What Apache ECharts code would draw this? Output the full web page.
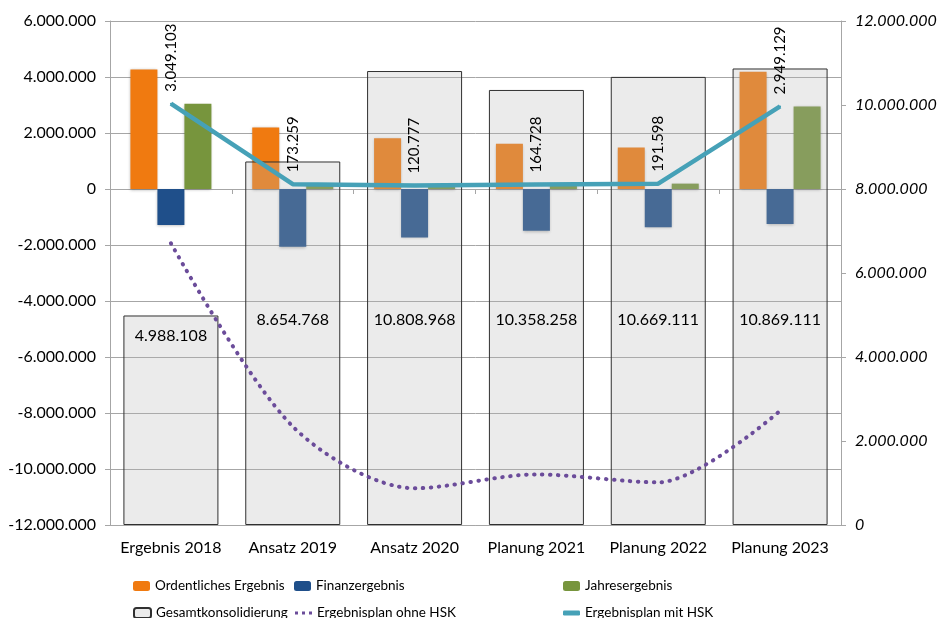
<!DOCTYPE html>
<html>
<head>
<meta charset="utf-8">
<script src="https://cdn.jsdelivr.net/npm/echarts@6/dist/echarts.min.js"></script>
<style>
  html, body { margin: 0; padding: 0; background: #fff; }
  #chart { width: 939px; height: 618px; }
</style>
</head>
<body>
<div id="chart"></div>
<script>
// Kategorien und Werte
const categories = ['Ergebnis 2018', 'Ansatz 2019', 'Ansatz 2020', 'Planung 2021', 'Planung 2022', 'Planung 2023'];
const ordentlich = [4270000, 2200000, 1810000, 1620000, 1480000, 4190000];
const finanz = [-1290000, -2060000, -1730000, -1490000, -1370000, -1250000];
const jahres = [3049103, 173259, 120777, 164728, 191598, 2949129];
const gesamt = [4988108, 8654768, 10808968, 10358258, 10669111, 10869111];
const ohneHSK = [-1939005, -8481509, -10688191, -10193530, -10477513, -7919982];
const mitHSK = [3049103, 173259, 120777, 164728, 191598, 2949129];

const FONT = 'Lato';

function de(v) {
  const s = Math.abs(Math.round(v)).toString().replace(/\B(?=(\d{3})+(?!\d))/g, '.');
  return (v < 0 ? '-' : '') + s;
}

const chart = echarts.init(document.getElementById('chart'));

// Beschriftung Gesamtkonsolidierung: ersten Balken oben innen, sonst fester Abstand vom Boden
const gesamtData = gesamt.map((v, i) => ({
  value: v,
  label: i === 0
    ? { position: 'insideTop', distance: 12 }
    : { position: 'insideBottom', distance: 197 }
}));

const legendText = { fontFamily: FONT, fontSize: 13.5, color: '#000' };
const dots = 'path://M0,0h3v3h-3zM7,0h3v3h-3zM14,0h3v3h-3z';

// eine Legende je Eintrag, damit die Spalten wie im Original stehen
function leg(name, left, top, extra) {
  return Object.assign({
    left: left, top: top, orient: 'horizontal',
    itemWidth: 17, itemHeight: 10,
    textStyle: legendText,
    data: [name]
  }, extra || {});
}

chart.setOption({
  animation: false,
  textStyle: { fontFamily: FONT },
  grid: { left: 110, right: 98, top: 21, bottom: 93, containLabel: false, outerBoundsMode: 'none' },
  legend: [
    leg('Ordentliches Ergebnis', 128, 574),
    leg('Finanzergebnis', 289, 574),
    leg('Jahresergebnis', 558, 574),
    leg('Gesamtkonsolidierung', 128, 601),
    leg('Ergebnisplan ohne HSK', 290, 601, { data: [{ name: 'Ergebnisplan ohne HSK', icon: dots }], itemHeight: 3 }),
    leg('Ergebnisplan mit HSK', 558, 601, { data: [{ name: 'Ergebnisplan mit HSK', icon: 'roundRect' }], itemHeight: 5 })
  ],
  xAxis: [
    {
      type: 'category',
      data: categories,
      position: 'bottom',
      axisLine: { onZero: false, lineStyle: { color: '#a6a6a6' } },
      axisTick: { show: false },
      axisLabel: { color: '#000', fontSize: 16, margin: 15, interval: 0, fontFamily: FONT }
    },
    {
      type: 'category',
      data: categories,
      position: 'bottom',
      axisLine: { onZero: true, onZeroAxisIndex: 0, lineStyle: { color: '#a6a6a6' } },
      axisTick: { show: true, length: 5, lineStyle: { color: '#a6a6a6' } },
      axisLabel: { show: false }
    }
  ],
  yAxis: [
    {
      type: 'value',
      min: -12000000,
      max: 6000000,
      interval: 2000000,
      axisLine: { show: true, lineStyle: { color: '#a6a6a6' } },
      axisTick: { show: true, length: 5, lineStyle: { color: '#a6a6a6' } },
      splitLine: { lineStyle: { color: '#a6a6a6' } },
      axisLabel: { color: '#000', fontSize: 16, margin: 14, fontFamily: FONT, formatter: de }
    },
    {
      type: 'value',
      position: 'right',
      min: 0,
      max: 12000000,
      interval: 2000000,
      axisLine: { show: true, lineStyle: { color: '#a6a6a6' } },
      axisTick: { show: true, length: 5, lineStyle: { color: '#a6a6a6' } },
      splitLine: { show: false },
      axisLabel: { color: '#000', fontSize: 16, fontStyle: 'italic', margin: 14, fontFamily: FONT, formatter: de }
    }
  ],
  series: [
    {
      name: 'Ordentliches Ergebnis',
      type: 'bar',
      xAxisIndex: 0, yAxisIndex: 0,
      barWidth: 27, barGap: '0%',
      data: ordentlich,
      itemStyle: { color: '#f07a10', shadowColor: 'rgba(0,0,0,0.3)', shadowBlur: 3, shadowOffsetY: 1 }
    },
    {
      name: 'Finanzergebnis',
      type: 'bar',
      xAxisIndex: 0, yAxisIndex: 0,
      barWidth: 27, barGap: '0%',
      data: finanz,
      itemStyle: { color: '#1f4f8a', shadowColor: 'rgba(0,0,0,0.3)', shadowBlur: 3, shadowOffsetY: 1 }
    },
    {
      name: 'Jahresergebnis',
      type: 'bar',
      xAxisIndex: 0, yAxisIndex: 0,
      barWidth: 27, barGap: '0%',
      data: jahres,
      itemStyle: { color: '#77953d', shadowColor: 'rgba(0,0,0,0.3)', shadowBlur: 3, shadowOffsetY: 1 }
    },
    {
      name: 'Gesamtkonsolidierung',
      type: 'bar',
      xAxisIndex: 1, yAxisIndex: 1,
      barWidth: 95,
      data: gesamtData,
      itemStyle: { color: 'rgba(181,181,181,0.27)', borderColor: '#303030', borderWidth: 1 },
      label: {
        show: true,
        color: '#000',
        fontSize: 16,
        fontFamily: FONT,
        formatter: p => de(p.value)
      }
    },
    {
      name: 'Ergebnisplan ohne HSK',
      type: 'line',
      xAxisIndex: 0, yAxisIndex: 0,
      data: ohneHSK,
      smooth: 0.3,
      symbol: 'none',
      itemStyle: { color: '#6b4c9a' },
      lineStyle: { color: '#6b4c9a', width: 4, type: [0.5, 7.5], cap: 'round' },
      z: 3
    },
    {
      name: 'Ergebnisplan mit HSK',
      type: 'line',
      xAxisIndex: 0, yAxisIndex: 0,
      data: mitHSK,
      symbol: 'circle',
      symbolSize: 2,
      showSymbol: true,
      itemStyle: { color: '#46a1b7' },
      lineStyle: { color: '#46a1b7', width: 4.5 },
      label: {
        show: true,
        position: 'top',
        distance: 6,
        rotate: 90,
        align: 'left',
        verticalAlign: 'middle',
        offset: [5, 0],
        color: '#000',
        fontSize: 15,
        fontFamily: FONT,
        formatter: p => de(p.value)
      },
      z: 4
    }
  ]
});
</script>
</body>
</html>
